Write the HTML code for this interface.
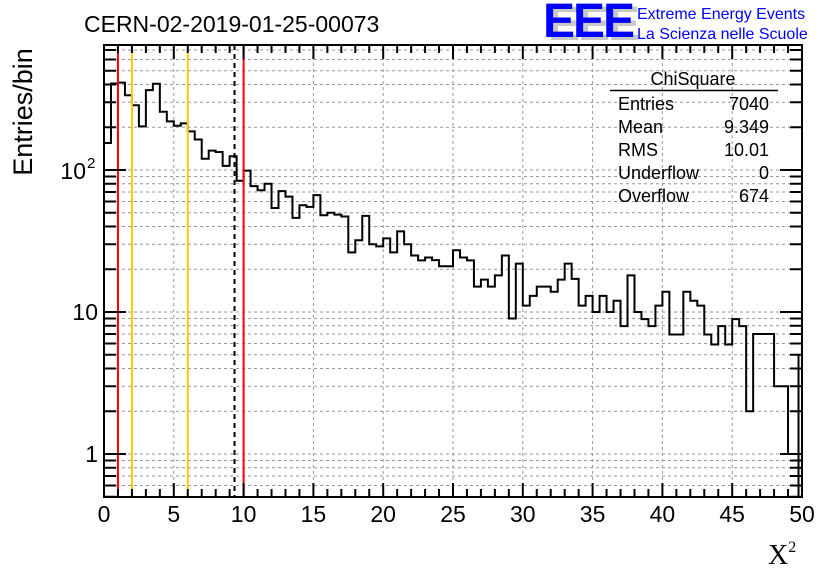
<!DOCTYPE html>
<html><head><meta charset="utf-8"><style>
body{margin:0;background:#fff;}
svg{display:block;font-family:"Liberation Sans",sans-serif;}
</style></head><body>
<svg id="c" width="836" height="572" viewBox="0 0 836 572">
<text x="84" y="32" font-size="23">CERN-02-2019-01-25-00073</text>
<g>
<text x="548" y="40" font-size="48" font-weight="bold" fill="#c8c8c8" letter-spacing="-2">EEE</text>
<text x="543" y="37" font-size="48" font-weight="bold" fill="#0000ff" letter-spacing="-2">EEE</text>
<text x="637" y="19" font-size="16" fill="#0000ff">Extreme Energy Events</text>
<text x="637" y="39" font-size="16" fill="#0000ff">La Scienza nelle Scuole</text>
</g>
<g id="grid"></g>
<g id="marks"></g>
<g id="axes"></g>
<g font-size="18">
<text x="693" y="85" text-anchor="middle">ChiSquare</text>
<line x1="610" y1="90.5" x2="778" y2="90.5" stroke="#000" stroke-width="1.5"/>
<text x="618" y="110">Entries</text><text x="769" y="110" text-anchor="end">7040</text>
<text x="618" y="133">Mean</text><text x="769" y="133" text-anchor="end">9.349</text>
<text x="618" y="156">RMS</text><text x="769" y="156" text-anchor="end">10.01</text>
<text x="618" y="179">Underflow</text><text x="769" y="179" text-anchor="end">0</text>
<text x="618" y="202">Overflow</text><text x="769" y="202" text-anchor="end">674</text>
</g>
<text transform="translate(32,112) rotate(-90)" text-anchor="middle" font-size="27">Entries/bin</text>
<text x="768" y="564" font-size="28" font-family="'Liberation Serif',serif">X<tspan font-size="16" dy="-12">2</tspan></text>
</svg>
<script>
const counts=[155,407,412,336,286,203,365,405,257,220,205,213,187,164,120,137,134,107,125,84,99,77,72,80,54,71,65,46,56.5,55,66.5,48,50,48.5,47,26.3,32,47.5,30,29,33,26.3,37,30,25,23.1,24.2,23.2,21,21,27.2,24.2,23.1,15.1,16.9,15.1,18.1,25,9,21.9,11.1,13,15.1,15.1,13.9,16.9,21.9,17.1,11.1,13,10,13,10,12,7.95,18.1,10,8.9,7.95,11.1,13.9,6.95,6.95,13.9,12,11.1,6.95,5.9,7.95,5.9,8.9,7.95,2,7,7,7,3,3,1,1];
const xTicks=[0,5,10,15,20,25,30,35,40,45,50];
const redLines=[1,10];
const yellowLines=[2,6];
const meanLine=[9.349];
const binWidth=0.5;
const L=104,R=802,T=45,B=497;
const sx=v=>L+(v/50)*(R-L);
const Y1=454,DEC=142;
const sy=v=>Y1-Math.log10(v)*DEC;
const NS="http://www.w3.org/2000/svg";
function mk(t,a,p){const e=document.createElementNS(NS,t);for(const k in a)e.setAttribute(k,a[k]);p.appendChild(e);return e;}
const grid=document.getElementById('grid'),marks=document.getElementById('marks'),axes=document.getElementById('axes');
for(const t of xTicks){if(t===0||t===50)continue;const g=mk('line',{x1:sx(t),x2:sx(t),y1:T,y2:B,stroke:'#999','stroke-dasharray':'3,3','stroke-width':1},grid);

}
for(let d=-1;d<=2;d++)for(let m=1;m<=9;m++){const v=m*Math.pow(10,d);const y=sy(v);if(y<T||y>B)continue;
const g=mk('line',{x1:L,x2:R,y1:y,y2:y,stroke:'#999','stroke-dasharray':'3,3','stroke-width':1},grid);

}
let d='M'+sx(0)+','+B;
counts.forEach((c,i)=>{const y=Math.max(T,sy(c));d+=' L'+sx(i*binWidth)+','+y+' L'+sx((i+1)*binWidth)+','+y;});
d+=' L'+sx(50)+','+B;
const h=mk('path',{d:d,fill:'none',stroke:'#000','stroke-width':2},marks);


const lc=counts[counts.length-1];
const eb=mk('line',{x1:sx(49.75),x2:sx(49.75),y1:sy(lc+Math.sqrt(lc)*4),y2:B,stroke:'#000','stroke-width':2},marks);


function vline(v,col,dash,name){const e=mk('line',{x1:sx(v),x2:sx(v),y1:T,y2:B,stroke:col,'stroke-width':2},marks);if(dash)e.setAttribute('stroke-dasharray',dash);

}
redLines.forEach(v=>vline(v,'#ff0000',null,'red-cut-line'));
yellowLines.forEach(v=>vline(v,'#ffcc00',null,'yellow-cut-line'));
meanLine.forEach(v=>vline(v,'#000',"5,4",'mean-line'));
const fr=mk('rect',{x:L,y:T,width:R-L,height:B-T,fill:'none',stroke:'#000','stroke-width':2},axes);


for(let v=0;v<=50;v++){const len=(v%5===0)?14:8;
mk('line',{x1:sx(v),x2:sx(v),y1:B,y2:B-len,stroke:'#000','stroke-width':2},axes);
mk('line',{x1:sx(v),x2:sx(v),y1:T,y2:T+len,stroke:'#000','stroke-width':2},axes);}
xTicks.forEach(t=>{const e=mk('text',{x:sx(t),y:522,'text-anchor':'middle','font-size':23},axes);e.textContent=t;

});
for(let dd=-1;dd<=2;dd++)for(let m=1;m<=9;m++){const v=m*Math.pow(10,dd);const y=sy(v);if(y<T||y>B)continue;const len=m===1?22:12;
mk('line',{x1:L,x2:L+len,y1:y,y2:y,stroke:'#000','stroke-width':2},axes);
mk('line',{x1:R,x2:R-len,y1:y,y2:y,stroke:'#000','stroke-width':2},axes);}
const yl=[[1,'1'],[10,'10']];
yl.forEach(([v,s])=>{const e=mk('text',{x:98,y:sy(v)+8,'text-anchor':'end','font-size':23},axes);e.textContent=s;

});
const e2=mk('text',{x:86,y:sy(100)+9,'text-anchor':'end','font-size':23},axes);e2.textContent='10';


const e3=mk('text',{x:87,y:sy(100)-2,'font-size':15},axes);e3.textContent='2';


</script>
</body></html>
